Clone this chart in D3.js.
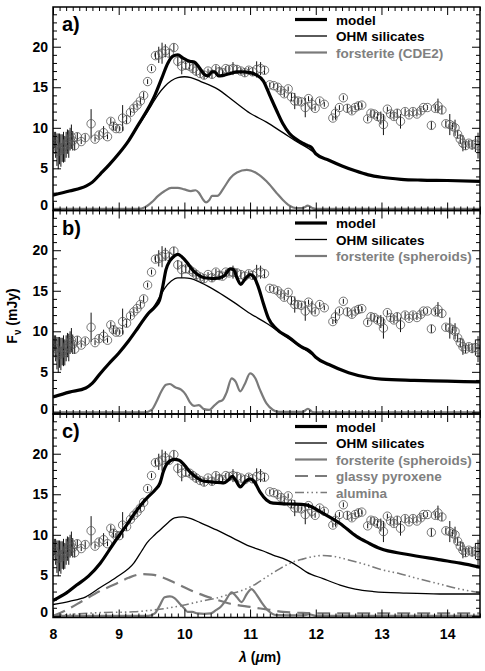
<!DOCTYPE html>
<html>
<head>
<meta charset="utf-8">
<script src="https://cdn.jsdelivr.net/npm/d3@7"></script>
<style>
body { margin: 0; background: #fff; }
svg text { font-family: "Liberation Sans", Arial, sans-serif; font-weight: bold; }
</style>
</head>
<body>
<div id="chart"></div>
<script>
// observed spectrum: wavelength (um), flux (mJy), error (mJy)
var obsWave = [8.02,8.04,8.06,8.08,8.10,8.12,8.14,8.16,8.18,8.20,8.22,8.24,8.26,8.28,8.30,8.33,8.37,8.43,8.49,8.58,
  8.64,8.70,8.77,8.83,8.88,8.92,8.96,9.01,9.06,9.12,9.18,9.23,9.28,9.33,9.38,9.44,9.50,9.56,9.61,9.66,
  9.71,9.77,9.84,9.90,9.96,10.02,10.08,10.13,10.18,10.24,10.30,10.36,10.42,10.48,10.53,10.58,10.63,10.68,10.74,10.80,
  10.86,10.92,10.98,11.04,11.10,11.16,11.22,11.30,11.36,11.42,11.47,11.52,11.58,11.63,11.68,11.73,11.78,11.84,11.89,11.94,
  11.99,12.06,12.13,12.26,12.30,12.36,12.42,12.48,12.55,12.60,12.65,12.70,12.79,12.84,12.89,12.94,12.99,13.03,13.09,13.14,
  13.19,13.24,13.29,13.36,13.42,13.48,13.54,13.60,13.64,13.70,13.76,13.82,13.86,13.92,13.98,14.04,14.08,14.12,14.16,14.20,
  14.24,14.28,14.33,14.38,14.43,14.47];
var obsFlux = [8.5,7.9,7.3,7.1,7.4,7.2,7.5,7.6,7.4,7.9,8.3,8.0,8.6,8.9,8.4,7.8,8.9,8.3,8.8,10.5,
  8.6,9.1,9.4,8.9,10.8,10.2,9.9,9.9,11.2,11.0,11.9,12.4,12.8,13.3,14.0,15.7,17.3,18.9,19.0,19.2,
  19.5,19.2,19.9,18.2,17.6,17.7,17.6,17.3,17.0,16.7,16.5,17.0,16.6,17.3,16.9,16.8,17.3,17.2,17.3,17.2,
  17.0,16.8,17.1,16.9,17.2,17.3,17.1,15.3,15.2,15.0,14.6,14.2,14.8,13.8,13.3,13.3,13.2,12.5,13.6,12.9,
  12.4,13.3,12.9,11.2,11.8,12.5,13.7,12.4,12.1,12.5,12.7,12.8,11.1,11.8,11.7,11.4,11.2,10.4,12.3,11.7,
  11.4,11.8,10.8,12.0,11.6,12.0,11.7,12.1,12.5,12.5,10.3,12.4,12.7,12.2,10.5,10.4,10.2,10.0,9.2,8.6,
  8.1,7.8,8.1,7.9,8.0,7.8];
var obsErr = [1.0,1.6,2.0,2.2,1.9,2.0,1.7,1.9,1.6,1.6,1.5,1.7,1.4,1.5,1.2,0.6,0.5,0.3,0.4,1.8,
  0.3,0.4,0.8,0.3,0.4,0.5,0.3,0.3,1.6,0.5,0.4,0.4,0.3,0.4,0.4,0.3,0.3,0.4,1.0,1.3,
  0.8,0.5,0.5,0.6,1.0,0.5,0.4,0.5,0.6,0.4,0.5,0.3,0.5,0.4,0.6,0.4,0.3,0.4,0.8,0.5,
  0.4,0.5,0.4,0.5,1.0,0.8,0.5,0.3,0.3,0.4,0.4,0.4,0.3,0.5,1.0,0.4,0.3,1.2,0.3,0.8,
  0.3,0.3,0.3,0.3,0.8,0.3,0.3,0.5,0.4,0.3,0.5,0.3,0.3,0.4,0.4,0.4,0.8,1.3,0.3,0.4,
  0.4,0.5,0.9,0.4,0.3,0.4,0.3,0.4,0.3,0.3,0.5,0.4,0.9,0.5,0.4,1.3,0.4,1.0,0.5,0.6,
  1.0,0.5,0.4,0.6,1.0,1.6];

// panel a
var modelA = [[8.0,1.7],[8.25,2.2],[8.5,2.8],[8.6,3.3],[8.72,4.3],[8.85,5.4],[9.0,6.8],[9.15,8.4],[9.3,10.4],[9.45,12.4],
  [9.55,14.0],[9.65,16.0],[9.75,18.0],[9.82,18.8],[9.9,19.0],[9.98,18.6],[10.08,18.2],[10.15,18.1],[10.22,17.5],[10.3,16.6],
  [10.36,16.4],[10.42,16.9],[10.46,16.9],[10.52,16.4],[10.6,16.5],[10.7,16.7],[10.8,16.9],[10.9,16.9],[11.0,16.8],[11.1,16.5],
  [11.2,15.8],[11.3,14.0],[11.4,12.2],[11.5,10.5],[11.6,9.3],[11.7,8.6],[11.8,8.1],[11.88,7.8],[11.93,7.6],[12.0,6.8],
  [12.2,6.0],[12.4,5.3],[12.6,4.7],[12.8,4.2],[13.0,3.9],[13.3,3.65],[13.6,3.55],[14.0,3.5],[14.5,3.4]];
var ohmA = [[8.0,1.7],[8.25,2.2],[8.5,2.8],[8.6,3.3],[8.72,4.3],[8.85,5.4],[9.0,6.8],[9.15,8.4],[9.3,10.3],[9.4,11.5],
  [9.5,12.8],[9.6,14.1],[9.7,15.1],[9.8,15.8],[9.9,16.2],[10.0,16.3],[10.1,16.2],[10.25,15.7],[10.5,14.8],[10.75,13.3],
  [11.0,11.8],[11.25,10.7],[11.5,9.4],[11.75,8.1],[11.9,7.4],[12.0,6.8],[12.2,6.0],[12.4,5.3],[12.6,4.7],[12.8,4.2],
  [13.0,3.9],[13.3,3.65],[13.6,3.55],[14.0,3.5],[14.5,3.4]];
var forsA = [[8.0,0],[9.3,0],[9.4,0.2],[9.5,0.8],[9.6,1.6],[9.7,2.2],[9.8,2.6],[9.9,2.6],[10.0,2.4],[10.1,2.2],
  [10.17,2.3],[10.22,2.0],[10.28,1.2],[10.33,0.8],[10.38,1.1],[10.42,1.6],[10.46,1.6],[10.5,1.6],[10.6,2.6],[10.7,3.8],
  [10.8,4.5],[10.95,4.8],[11.1,4.4],[11.25,3.4],[11.4,2.0],[11.5,1.1],[11.6,0.4],[11.7,0.1],[11.8,0.1],[11.88,0.4],
  [11.95,0.1],[12.0,0],[14.5,0]];

// panel b
var modelB = [[8.0,1.9],[8.25,2.5],[8.5,3.0],[8.6,3.6],[8.72,4.8],[8.85,6.0],[9.0,7.3],[9.15,8.8],[9.3,10.5],[9.45,12.2],
  [9.55,13.0],[9.62,13.8],[9.67,15.5],[9.72,17.6],[9.78,18.7],[9.85,19.3],[9.9,19.5],[9.96,19.2],[10.05,18.4],[10.12,17.6],
  [10.2,17.0],[10.3,16.6],[10.45,16.5],[10.6,16.8],[10.7,17.7],[10.75,17.6],[10.8,16.6],[10.86,15.8],[10.92,16.4],[11.0,17.0],
  [11.05,16.8],[11.12,15.6],[11.2,13.5],[11.28,11.6],[11.4,10.3],[11.6,9.2],[11.8,8.0],[11.88,7.7],[11.93,7.4],[12.0,6.8],
  [12.2,5.9],[12.5,4.9],[12.8,4.3],[13.0,4.1],[13.5,3.95],[14.0,3.85],[14.5,3.75]];
var ohmB = [[8.0,1.9],[8.25,2.5],[8.5,3.0],[8.6,3.6],[8.72,4.8],[8.85,6.0],[9.0,7.3],[9.15,8.8],[9.3,10.5],[9.4,11.6],
  [9.5,12.6],[9.6,13.9],[9.7,15.3],[9.8,16.2],[9.9,16.6],[10.0,16.6],[10.1,16.5],[10.25,16.0],[10.5,14.9],[10.75,13.6],
  [11.0,12.2],[11.25,11.0],[11.5,9.6],[11.75,8.2],[11.9,7.4],[12.0,6.8],[12.2,5.9],[12.5,4.9],[12.8,4.3],[13.0,4.1],
  [13.5,3.95],[14.0,3.85],[14.5,3.75]];
var forsB = [[8.0,0],[9.4,0],[9.5,0.3],[9.58,1.4],[9.65,2.6],[9.72,3.4],[9.78,3.5],[9.86,3.1],[9.95,2.8],[10.02,2.2],
  [10.08,1.3],[10.15,0.8],[10.22,0.9],[10.3,0.4],[10.38,0.3],[10.45,0.8],[10.52,1.3],[10.58,1.5],[10.64,2.4],[10.72,4.2],
  [10.78,3.8],[10.85,2.6],[10.92,3.5],[11.0,4.8],[11.08,4.2],[11.15,2.8],[11.25,1.1],[11.35,0.3],[11.45,0.05],[11.8,0.05],
  [11.88,0.45],[11.95,0.05],[12.0,0],[14.5,0]];

// panel c
var modelC = [[8.0,1.9],[8.2,2.8],[8.36,3.8],[8.54,4.9],[8.72,6.5],[8.92,8.9],[9.12,11.2],[9.32,13.5],[9.45,14.7],[9.55,15.5],
  [9.63,16.4],[9.68,17.8],[9.75,18.9],[9.85,19.3],[9.92,19.2],[10.0,18.6],[10.08,17.8],[10.18,17.1],[10.3,16.6],[10.45,16.5],
  [10.6,16.4],[10.66,16.7],[10.73,17.2],[10.79,16.6],[10.85,15.9],[10.92,16.5],[11.0,16.9],[11.06,16.6],[11.15,15.3],[11.25,14.3],
  [11.35,13.9],[11.6,13.8],[11.85,13.7],[11.95,13.4],[12.1,12.7],[12.37,11.4],[12.62,9.8],[12.8,9.0],[12.98,8.3],[13.38,7.6],
  [13.9,6.9],[14.2,6.5],[14.5,6.0]];
var ohmC = [[8.0,1.4],[8.25,1.8],[8.5,2.35],[8.72,3.5],[8.97,4.8],[9.23,6.5],[9.35,8.0],[9.43,9.0],[9.55,10.0],[9.63,10.6],
  [9.75,11.5],[9.85,12.1],[9.98,12.2],[10.1,12.0],[10.24,11.5],[10.49,10.6],[10.74,9.6],[10.99,8.6],[11.2,8.0],[11.35,7.5],
  [11.5,7.1],[11.61,6.7],[11.75,6.0],[11.86,5.4],[12.11,4.6],[12.37,3.8],[12.6,3.3],[12.88,3.0],[13.38,2.8],[13.89,2.7],[14.5,2.7]];
var forsC = [[8.0,0],[9.45,0],[9.55,0.3],[9.62,1.2],[9.7,2.3],[9.78,2.4],[9.85,2.2],[9.92,1.6],[10.0,0.9],[10.05,0.5],
  [10.12,0.5],[10.2,0.3],[10.3,0.25],[10.4,0.3],[10.48,0.7],[10.55,1.1],[10.62,1.8],[10.72,2.9],[10.8,2.3],[10.87,1.7],
  [10.95,2.7],[11.02,3.3],[11.1,2.6],[11.18,1.6],[11.28,0.6],[11.4,0.1],[11.8,0.05],[11.9,0.2],[12.0,0],[14.5,0]];
var glassyC = [[8.0,0.0],[8.2,0.7],[8.46,1.9],[8.7,3.0],[8.97,4.0],[9.15,4.7],[9.35,5.15],[9.5,5.1],[9.65,4.8],[9.85,4.1],
  [9.98,3.6],[10.14,3.0],[10.3,2.5],[10.49,2.0],[10.7,1.5],[11.0,1.1],[11.3,0.75],[11.5,0.5],[11.86,0.35],[12.2,0.3],[14.5,0.3]];
var aluminaC = [[8.0,0.0],[8.3,0.2],[8.72,0.4],[9.23,0.5],[9.5,0.7],[9.7,0.9],[9.98,1.3],[10.25,1.8],[10.49,2.2],[10.7,2.7],
  [10.9,3.2],[11.1,4.0],[11.25,4.8],[11.45,5.8],[11.61,6.5],[11.8,7.0],[11.95,7.3],[12.11,7.45],[12.3,7.3],[12.5,6.9],
  [12.77,6.3],[13.0,5.7],[13.28,5.2],[13.6,4.5],[13.9,3.9],[14.2,3.3],[14.5,2.85]];

var panelLetters = ["a)", "b)", "c)"];
var xTicks = [8, 9, 10, 11, 12, 13, 14];
var yTicks = [0, 5, 10, 15, 20];

// line styles
var styles = {
  model:   {color: "#000", width: 3.2, dash: null},
  ohm:     {color: "#000", width: 1.3, dash: null},
  fors:    {color: "#7a7a7a", width: 2.2, dash: null},
  glassy:  {color: "#7a7a7a", width: 2.2, dash: "13,7"},
  alumina: {color: "#7a7a7a", width: 1.6, dash: "9,3,1.5,3,1.5,3,1.5,3"}
};

var panels = [
  {letter: panelLetters[0], curves: [["fors", forsA], ["ohm", ohmA], ["model", modelA]],
   legend: [["model", "model"], ["ohm", "OHM silicates"], ["fors", "forsterite (CDE2)"]]},
  {letter: panelLetters[1], curves: [["fors", forsB], ["ohm", ohmB], ["model", modelB]],
   legend: [["model", "model"], ["ohm", "OHM silicates"], ["fors", "forsterite (spheroids)"]]},
  {letter: panelLetters[2], curves: [["alumina", aluminaC], ["glassy", glassyC], ["fors", forsC], ["ohm", ohmC], ["model", modelC]],
   legend: [["model", "model"], ["ohm", "OHM silicates"], ["fors", "forsterite (spheroids)"], ["glassy", "glassy pyroxene"], ["alumina", "alumina"]]}
];

// dimensions
var margin = {top: 7, left: 53},
    width = 427,
    panelH = 203.5;

var svg = d3.select("#chart")
    .append("svg")
    .attr("width", 485)
    .attr("height", 671);

var x = d3.scaleLinear().domain([8, 14.5]).range([0, width]);
var y = d3.scaleLinear().domain([-0.2, 24.9]).range([panelH, 0]);

var line = d3.line()
    .x(d => x(d[0]))
    .y(d => y(d[1]))
    .curve(d3.curveMonotoneX);

var xMinor = d3.range(80, 146).map(d => d / 10).filter(d => d % 1 !== 0);
var yMinor = d3.range(0, 25).filter(d => d % 5 !== 0);

panels.forEach(function(p, i) {
  var g = svg.append("g")
      .attr("transform", `translate(${margin.left}, ${margin.top + i * panelH})`);

  g.append("clipPath").attr("id", "clip" + i)
    .append("rect").attr("width", width).attr("height", panelH);

  var plot = g.append("g").attr("clip-path", `url(#clip${i})`);

  // error bars
  plot.selectAll("line.err")
      .data(obsWave)
      .enter()
      .append("line")
      .attr("x1", d => x(d)).attr("x2", d => x(d))
      .attr("y1", (d, k) => y(obsFlux[k] - obsErr[k]))
      .attr("y2", (d, k) => y(obsFlux[k] + obsErr[k]))
      .attr("stroke", "#111")
      .attr("stroke-width", 1);

  // data circles
  plot.selectAll("circle")
      .data(obsWave)
      .enter()
      .append("circle")
      .attr("cx", d => x(d))
      .attr("cy", (d, k) => y(obsFlux[k]))
      .attr("r", 4.2)
      .attr("fill", "none")
      .attr("stroke", "#555")
      .attr("stroke-width", 0.8);

  // model curves
  p.curves.forEach(function(c) {
    var s = styles[c[0]];
    plot.append("path")
        .datum(c[1])
        .attr("d", line)
        .attr("fill", "none")
        .attr("stroke", s.color)
        .attr("stroke-width", s.width)
        .attr("stroke-dasharray", s.dash);
  });

  // ticks on all sides, pointing inward
  function ticks(axis, vals, size, tf) {
    return axis.tickValues(vals).tickSize(size).tickFormat(tf || "");
  }
  var gl = g.append("g").call(ticks(d3.axisLeft(y), yTicks, -8, d3.format("d")).tickPadding(5));
  g.append("g").call(ticks(d3.axisLeft(y), yMinor, -4));
  g.append("g").attr("transform", `translate(${width},0)`).call(ticks(d3.axisRight(y), yTicks, -8));
  g.append("g").attr("transform", `translate(${width},0)`).call(ticks(d3.axisRight(y), yMinor, -4));
  g.append("g").call(ticks(d3.axisTop(x), xTicks, -8));
  g.append("g").call(ticks(d3.axisTop(x), xMinor, -4));
  var gb = g.append("g").attr("transform", `translate(0,${panelH})`)
      .call(ticks(d3.axisBottom(x), xTicks, -8, i === 2 ? d3.format("d") : "").tickPadding(12));
  g.append("g").attr("transform", `translate(0,${panelH})`).call(ticks(d3.axisBottom(x), xMinor, -4));

  g.selectAll(".domain").remove();
  g.selectAll(".tick line").attr("stroke", "#000").attr("stroke-width", 1);
  gl.selectAll("text").style("font-size", "14px").attr("fill", "#000")
    .filter(d => d === 0).attr("dy", "0.05em");
  gb.selectAll("text").style("font-size", "14px").attr("fill", "#000");

  // frame
  g.append("rect")
      .attr("width", width)
      .attr("height", panelH)
      .attr("fill", "none")
      .attr("stroke", "#000")
      .attr("stroke-width", 1.5);

  // panel letter
  g.append("text")
      .attr("x", 9)
      .attr("y", 24)
      .style("font-size", "20px")
      .text(p.letter);

  // legend
  p.legend.forEach(function(l, k) {
    var s = styles[l[0]];
    var ly = 12.5 + k * 16.5;
    g.append("line")
        .attr("x1", 242).attr("x2", 274)
        .attr("y1", ly).attr("y2", ly)
        .attr("stroke", s.color)
        .attr("stroke-width", l[0] === "model" ? 3.2 : (l[0] === "ohm" ? 1.3 : s.width))
        .attr("stroke-dasharray", s.dash);
    g.append("text")
        .attr("x", 283)
        .attr("y", ly + 5)
        .style("font-size", "13.5px")
        .attr("fill", s.color === "#000" ? "#000" : "#808080")
        .text(l[1]);
  });
});

// axis titles
var xt = svg.append("text")
    .attr("x", 260)
    .attr("y", 662)
    .attr("text-anchor", "middle")
    .style("font-size", "14px");
xt.append("tspan").style("font-style", "italic").text("λ");
xt.append("tspan").text(" (");
xt.append("tspan").style("font-style", "italic").text("μ");
xt.append("tspan").text("m)");

var yt = svg.append("text")
    .attr("transform", "translate(17, 316) rotate(-90)")
    .attr("text-anchor", "middle")
    .style("font-size", "14px");
yt.append("tspan").text("F");
yt.append("tspan").attr("dy", 4).style("font-size", "10px").text("ν");
yt.append("tspan").attr("dy", -4).text(" (mJy)");
</script>
</body>
</html>
